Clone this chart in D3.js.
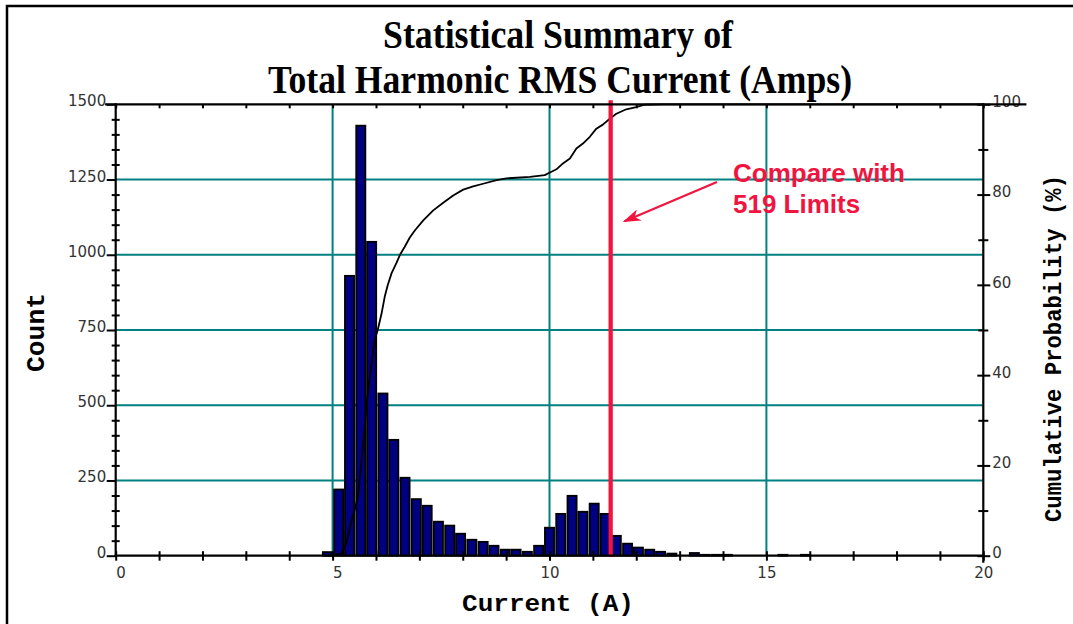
<!DOCTYPE html>
<html>
<head>
<meta charset="utf-8">
<script src="https://cdnjs.cloudflare.com/ajax/libs/d3/7.8.5/d3.min.js"></script>
<style>
  html, body { margin: 0; padding: 0; background: #fff; }
  svg { display: block; }
</style>
</head>
<body>
<svg id="chart" width="1073" height="624"></svg>
<script>
// ---------------- data ----------------
const titleLines = ["Statistical Summary of", "Total Harmonic RMS Current (Amps)"];
const xLabel = "Current (A)";
const yLeftLabel = "Count";
const yRightLabel = "Cumulative Probability (%)";

// histogram bin centres (A) and counts
const binCenters = [4.88, 5.14, 5.39, 5.65, 5.90, 6.16, 6.41, 6.67, 6.93, 7.18,
                    7.44, 7.70, 7.95, 8.21, 8.47, 8.72, 8.98, 9.23, 9.49, 9.75,
                    10.00, 10.26, 10.52, 10.77, 11.03, 11.28, 11.54, 11.80, 12.05, 12.31,
                    12.56, 12.82, 13.34, 13.59, 13.85, 14.10, 15.38, 15.90];
const binCounts  = [12, 220, 930, 1429, 1043, 539, 385, 259, 188, 166,
                    113, 100, 73, 53, 46, 33, 20, 20, 13, 33,
                    93, 139, 199, 146, 173, 139, 66, 40, 27, 20,
                    13, 7, 9, 3, 3, 3, 3, 3];
const binWidth = 0.21;

// cumulative probability curve (A, %)
const cumX = [4.80, 5.01, 5.21, 5.32, 5.44, 5.51, 5.58, 5.67, 5.74, 5.81,
              5.90, 5.97, 6.04, 6.13, 6.20, 6.27, 6.36, 6.47, 6.55, 6.66,
              6.78, 6.90, 7.09, 7.32, 7.55, 7.78, 8.01, 8.24, 8.47, 8.78,
              9.01, 9.55, 9.89, 10.01, 10.16, 10.31, 10.47, 10.62, 10.77, 10.93,
              11.08, 11.23, 11.39, 11.54, 11.77, 12.00, 12.19, 12.62, 20.0];
const cumP = [0, 0, 0.6, 2.8, 7.9, 10.1, 13, 21.2, 28.5, 36,
              42.7, 47.8, 50, 53.7, 57.3, 59.9, 62.6, 64.8, 66.6, 68.4,
              70.5, 72.1, 74.3, 76.5, 78.2, 79.8, 81.1, 81.8, 82.4, 83.2,
              83.6, 83.9, 84.3, 84.9, 85.6, 86.9, 88.0, 90.2, 91.3, 92.8,
              94.6, 95.5, 96.8, 97.9, 98.9, 99.4, 99.9, 100, 100];

// axis ticks
const xTicks = d3.range(0, 21, 1);
const xTickLabels = [0, 5, 10, 15, 20];
const xGrid = [5, 10, 15];
const countTicks = [0, 250, 500, 750, 1000, 1250, 1500];
const countMinor = d3.range(50, 1500, 50).filter(v => v % 250 !== 0);
const countGrid = [250, 500, 750, 1000, 1250];
const pctTicks = [0, 20, 40, 60, 80, 100];
const pctMinor = [10, 30, 50, 70, 90];

// limit line & annotation
const limitX = 11.41;
const annotLines = ["Compare with", "519 Limits"];
const annotTextPos = [14.23, 82.7];   // (A, %)
const annotLineGap = 6.8;             // % between baselines
const arrowFrom = [13.86, 82.8];
const arrowTo = [11.73, 74.1];

// ---------------- drawing ----------------
const svg = d3.select("#chart");
const W = 1073, H = 624;
const red = "#F0143F", teal = "#008080", navy = "#000080";

const x = d3.scaleLinear().domain([0, 20]).range([115.7, 983.3]);
const yC = d3.scaleLinear().domain([0, 1500]).range([555.7, 104.3]);
const yP = d3.scaleLinear().domain([0, 100]).range([555.7, 104.3]);
const x0 = x.range()[0], x1 = x.range()[1];
const yBot = yC.range()[0], yTop = yC.range()[1];

// outer frame
svg.append("path")
  .attr("d", `M7,${H} L7,6 L${W},6`)
  .attr("fill", "none").attr("stroke", "#000").attr("stroke-width", 2.5);

// titles
const titleY = [48, 93];
const titleW = [350, 584];
const titleCx = [558, 560];
titleLines.forEach((t, i) => {
  svg.append("text")
    .attr("x", titleCx[i] - titleW[i] / 2).attr("y", titleY[i])
    .attr("textLength", titleW[i]).attr("lengthAdjust", "spacingAndGlyphs")
    .attr("font-family", "Liberation Serif, Times New Roman, serif")
    .attr("font-weight", "bold").attr("font-size", 40)
    .attr("fill", "#000").text(t);
});

// gridlines
svg.append("g").selectAll("line").data(countGrid).join("line")
  .attr("x1", x0).attr("x2", x1)
  .attr("y1", d => yC(d)).attr("y2", d => yC(d))
  .attr("stroke", teal).attr("stroke-width", 2);
svg.append("g").selectAll("line").data(xGrid).join("line")
  .attr("x1", d => x(d)).attr("x2", d => x(d))
  .attr("y1", yTop).attr("y2", yBot)
  .attr("stroke", teal).attr("stroke-width", 2);

// bars
const bins = binCenters.map((c, i) => ({ c, v: binCounts[i] }));
svg.append("g").selectAll("rect").data(bins).join("rect")
  .attr("x", d => x(d.c - binWidth / 2))
  .attr("width", x(binWidth) - x(0))
  .attr("y", d => yC(d.v))
  .attr("height", d => yC(0) - yC(d.v))
  .attr("fill", navy).attr("stroke", "#000").attr("stroke-width", 1.8);

// cumulative curve
const cum = cumX.map((v, i) => [v, cumP[i]]);
svg.append("path").datum(cum)
  .attr("d", d3.line().x(d => x(d[0])).y(d => yP(d[1])))
  .attr("fill", "none").attr("stroke", "#000").attr("stroke-width", 1.8)
  .attr("stroke-linejoin", "round");

// limit line
svg.append("line")
  .attr("x1", x(limitX)).attr("x2", x(limitX))
  .attr("y1", yP(100) - 4).attr("y2", yP(0) + 1)
  .attr("stroke", red).attr("stroke-width", 4.3);

// annotation arrow
svg.append("defs").append("marker")
  .attr("id", "arrow").attr("viewBox", "0 -6 18 12")
  .attr("refX", 16).attr("refY", 0)
  .attr("markerWidth", 18).attr("markerHeight", 12)
  .attr("markerUnits", "userSpaceOnUse").attr("orient", "auto")
  .append("path").attr("d", "M0,-6 L18,0 L0,6 L5,0 Z").attr("fill", red);
svg.append("line")
  .attr("x1", x(arrowFrom[0])).attr("y1", yP(arrowFrom[1]))
  .attr("x2", x(arrowTo[0])).attr("y2", yP(arrowTo[1]))
  .attr("stroke", red).attr("stroke-width", 2.2)
  .attr("marker-end", "url(#arrow)");
annotLines.forEach((t, i) => {
  svg.append("text")
    .attr("x", x(annotTextPos[0]))
    .attr("y", yP(annotTextPos[1] - i * annotLineGap))
    .attr("font-family", "Liberation Sans, Arial, sans-serif")
    .attr("font-weight", "bold").attr("font-size", 26)
    .attr("fill", red).text(t);
});

// ---------------- axes ----------------
const tickFont = g => g.selectAll("text")
  .attr("font-family", "DejaVu Sans, sans-serif").attr("font-size", 15).attr("fill", "#333");
const lineStyle = g => {
  g.selectAll("line").attr("stroke", "#000").attr("stroke-width", 2);
  g.select(".domain").remove();
};

// left major
const gL = svg.append("g").attr("transform", `translate(${x0},0)`)
  .call(d3.axisLeft(yC).tickValues(countTicks).tickSize(9).tickSizeOuter(0).tickPadding(0.5).tickFormat(d3.format("d")));
lineStyle(gL); tickFont(gL);
gL.selectAll("text").attr("dy", "0.1em");
// left minor (crossing)
const gLm = svg.append("g").attr("transform", `translate(${x0},0)`)
  .call(d3.axisLeft(yC).tickValues(countMinor).tickSize(4).tickSizeOuter(0).tickFormat(""));
lineStyle(gLm);
gLm.selectAll(".tick line").attr("x1", 4);

// right major
const gR = svg.append("g").attr("transform", `translate(${x1},0)`)
  .call(d3.axisRight(yP).tickValues(pctTicks).tickSize(7).tickSizeOuter(0).tickPadding(2).tickFormat(d3.format("d")));
lineStyle(gR); tickFont(gR);
gR.selectAll(".tick line").attr("x1", -6);
gR.selectAll("text").attr("dy", "0.15em");
const gRm = svg.append("g").attr("transform", `translate(${x1},0)`)
  .call(d3.axisRight(yP).tickValues(pctMinor).tickSize(5).tickSizeOuter(0).tickFormat(""));
lineStyle(gRm);
gRm.selectAll(".tick line").attr("x1", -5);

// bottom (labels right-aligned in a two-digit field)
const gB = svg.append("g").attr("transform", `translate(0,${yBot})`)
  .call(d3.axisBottom(x).tickValues(xTicks).tickSize(5).tickSizeOuter(0).tickPadding(6.6)
    .tickFormat(d => xTickLabels.includes(d) ? String(d) : ""));
lineStyle(gB); tickFont(gB);
gB.selectAll(".tick line").attr("y1", -4.5);
gB.selectAll(".tick text").attr("dx", d => (String(d).length === 1 ? 4.7 : 0));

// top ticks (inward)
const gT = svg.append("g").attr("transform", `translate(0,${yTop})`)
  .call(d3.axisBottom(x).tickValues(xTicks).tickSize(4).tickSizeOuter(0).tickFormat(""));
lineStyle(gT);

// axis lines
const axisLine = (ax1, ay1, ax2, ay2) => svg.append("line")
  .attr("x1", ax1).attr("y1", ay1).attr("x2", ax2).attr("y2", ay2)
  .attr("stroke", "#000").attr("stroke-width", 2.2).attr("stroke-linecap", "square");
axisLine(x0 - 9.5, yTop, x1 + 42, yTop);   // top
axisLine(x0, yTop, x0, yBot);               // left
axisLine(x1, yTop, x1, yBot + 6);           // right
axisLine(x0, yBot, x1, yBot);               // bottom

// axis titles
svg.append("text")
  .attr("x", 548 - 86).attr("y", 611)
  .attr("textLength", 172).attr("lengthAdjust", "spacingAndGlyphs")
  .attr("font-family", "Liberation Mono, Courier New, monospace")
  .attr("font-weight", "bold").attr("font-size", 24).attr("fill", "#000")
  .text(xLabel);
svg.append("text")
  .attr("transform", "translate(44,332.5) rotate(-90)")
  .attr("x", -39.5).attr("y", 0)
  .attr("textLength", 79).attr("lengthAdjust", "spacingAndGlyphs")
  .attr("font-family", "Liberation Mono, Courier New, monospace")
  .attr("font-weight", "bold").attr("font-size", 25).attr("fill", "#000")
  .text(yLeftLabel);
svg.append("text")
  .attr("transform", "translate(1061,348.5) rotate(-90)")
  .attr("x", -173.5).attr("y", 0)
  .attr("textLength", 347).attr("lengthAdjust", "spacingAndGlyphs")
  .attr("font-family", "Liberation Mono, Courier New, monospace")
  .attr("font-weight", "bold").attr("font-size", 24).attr("fill", "#000")
  .text(yRightLabel);
</script>
</body>
</html>
